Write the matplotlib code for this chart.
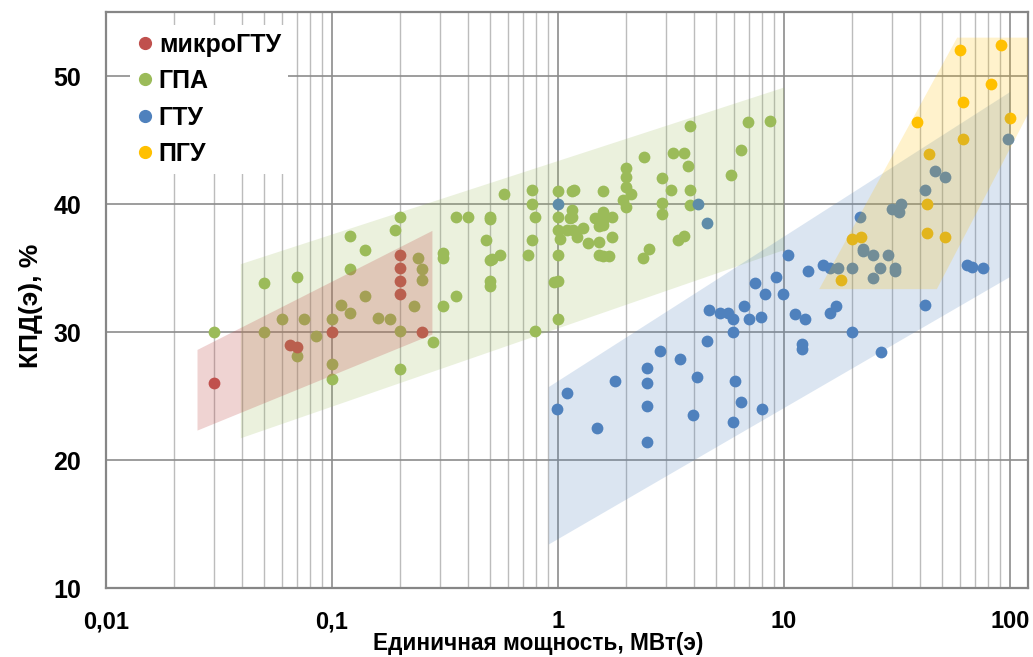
import matplotlib.pyplot as plt
from matplotlib.lines import Line2D
from matplotlib.ticker import LogLocator, NullFormatter

plt.rcParams['font.family'] = ['Liberation Sans', 'DejaVu Sans']

# микроГТУ
micro_x = [0.03, 0.065, 0.07, 0.1, 0.2, 0.2, 0.2, 0.2, 0.25]
micro_y = [26.0, 29.0, 28.8, 30.0, 36.0, 35.0, 34.0, 33.0, 30.0]

# ГПА
gpa_x = [0.2, 0.19, 0.355, 0.12, 0.14, 0.12, 0.05, 0.07, 0.31, 0.31, 0.355, 0.31, 0.03, 0.28, 0.2, 0.1,
         0.24, 0.25, 0.25, 0.23, 0.14, 0.11, 0.12, 0.16, 0.18, 0.1, 0.075, 0.06, 0.05, 0.085, 0.2, 0.07, 0.1,
         3.85, 6.93, 8.7, 6.47, 5.8, 2.4, 3.22, 3.61, 3.77, 2.0, 2.0, 2.0, 2.1, 2.88, 3.16, 3.85,
         1.58, 1.18, 1.15, 0.765, 1.0, 0.577, 0.765, 1.93, 2.0, 2.88, 3.85,
         0.4, 0.5, 0.5, 0.794, 1.0, 1.15, 1.15, 1.13, 1.45, 1.58, 1.58, 1.58, 1.52, 1.74, 2.88,
         1.0, 1.09, 1.16, 1.29, 1.02, 1.21, 1.35, 1.52, 1.74, 0.48, 0.765,
         0.5, 0.51, 0.556, 0.734, 1.0, 1.51, 1.58, 1.68, 2.38, 2.52, 3.41, 3.61,
         0.5, 0.5, 0.957, 1.0, 1.0, 0.79]
gpa_y = [39.0, 38.0, 39.0, 37.5, 36.4, 34.9, 33.8, 34.3, 36.15, 35.8, 32.8, 32.0, 30.0, 29.2, 27.1, 26.3,
         35.8, 34.9, 34.1, 32.0, 32.8, 32.1, 31.5, 31.1, 31.0, 31.0, 31.0, 31.0, 30.0, 29.7, 30.1, 28.1, 27.5,
         46.1, 46.4, 46.5, 44.2, 42.3, 43.7, 44.0, 44.0, 43.0, 42.8, 42.1, 41.35, 40.8, 42.0, 41.1, 41.1,
         41.0, 41.1, 41.0, 41.1, 41.0, 40.8, 40.0, 40.3, 39.8, 40.1, 39.9,
         39.0, 39.0, 38.8, 39.0, 39.0, 39.5, 39.0, 38.9, 38.9, 39.4, 38.75, 38.4, 38.3, 39.0, 39.2,
         38.0, 38.0, 38.0, 38.1, 37.3, 37.45, 36.95, 37.0, 37.45, 37.2, 37.2,
         35.6, 35.7, 36.0, 36.0, 36.0, 36.0, 35.9, 35.9, 35.8, 36.5, 37.2, 37.5,
         34.0, 33.6, 33.9, 34.0, 31.0, 30.1]

# ГТУ
gtu_x = [1.0, 4.15, 4.56, 4.67, 7.44, 9.2, 8.24, 9.93, 5.21, 5.67, 5.97, 6.67, 6.98, 7.89, 11.2, 12.4,
         5.97, 4.57, 12.0, 12.0, 2.83, 3.48, 2.48, 2.48, 1.79, 4.11, 6.09, 1.09, 0.99, 2.48, 6.45, 7.96,
         3.96, 5.97, 1.49, 2.48,
         98, 46.6, 51.4, 42.1, 32.8, 30.0, 32.1, 21.7, 22.4, 22.4, 24.8, 28.9, 10.4, 14.9, 15.9, 17.4,
         19.9, 26.6, 30.9, 30.9, 24.7, 12.8, 64.3, 67.6, 75.7, 16.9, 15.9, 41.9, 19.9, 26.7]
gtu_y = [40.0, 40.0, 38.5, 31.7, 33.8, 34.3, 33.0, 33.0, 31.5, 31.5, 31.0, 32.0, 31.0, 31.2, 31.4, 31.0,
         30.0, 29.3, 29.1, 28.7, 28.5, 27.9, 27.2, 26.0, 26.2, 26.5, 26.2, 25.2, 24.0, 24.2, 24.5, 24.0,
         23.5, 23.0, 22.5, 21.4,
         45.05, 42.6, 42.1, 41.1, 40.0, 39.6, 39.35, 39.0, 36.5, 36.3, 36.0, 36.0, 36.0, 35.2, 35.0, 35.0,
         35.0, 35.0, 35.0, 34.8, 34.2, 34.8, 35.2, 35.1, 35.0, 32.0, 31.5, 32.1, 30.0, 28.4]

# ПГУ
pgu_x = [60.1, 91.2, 82.6, 61.8, 100, 38.9, 61.8, 43.7, 42.8, 42.8, 51.7, 19.9, 21.9, 17.9]
pgu_y = [52.0, 52.4, 49.4, 48.0, 46.7, 46.4, 45.1, 43.9, 40.0, 37.7, 37.4, 37.3, 37.4, 34.1]

# shaded zones, corner points
micro_zone_x = [0.0254, 0.278, 0.278, 0.0254]
micro_zone_y = [28.6, 37.9, 29.8, 22.3]
gpa_zone_x = [0.0395, 10, 10, 0.0395]
gpa_zone_y = [35.3, 49.1, 36.4, 21.7]
gtu_zone_x = [0.91, 100, 100, 0.91]
gtu_zone_y = [25.7, 48.75, 34.3, 13.4]
pgu_zone_x = [14.3, 58.3, 180, 47.4]
pgu_zone_y = [33.35, 53.0, 53.0, 33.35]

x_ticks = [0.01, 0.1, 1, 10, 100]
x_labels = ['0,01', '0,1', '1', '10', '100']
y_ticks = [10, 20, 30, 40, 50]

colors = {'micro': '#c0504d', 'gpa': '#9bbb59', 'gtu': '#4f81bd', 'pgu': '#ffc000'}

fig = plt.figure(figsize=(10.33, 6.57), dpi=100)
ax = fig.add_axes([0.1026, 0.105, 0.8926, 0.8767])

# points first, zones drawn over them
ax.scatter(gpa_x, gpa_y, s=72, color=colors['gpa'], lw=0, zorder=2)
ax.scatter(gtu_x, gtu_y, s=72, color=colors['gtu'], lw=0, zorder=2)
ax.scatter(micro_x, micro_y, s=72, color=colors['micro'], lw=0, zorder=2)
ax.scatter(pgu_x, pgu_y, s=72, color=colors['pgu'], lw=0, zorder=2)

ax.fill(gpa_zone_x, gpa_zone_y, color=colors['gpa'], alpha=0.2, lw=0, zorder=3)
ax.fill(micro_zone_x, micro_zone_y, color=colors['micro'], alpha=0.25, lw=0, zorder=3)
ax.fill(gtu_zone_x, gtu_zone_y, color=colors['gtu'], alpha=0.2, lw=0, zorder=3)
ax.fill(pgu_zone_x, pgu_zone_y, color=colors['pgu'], alpha=0.2, lw=0, zorder=3)

ax.set_xscale('log')
ax.set_xlim(0.01, 120)
ax.set_ylim(10, 55)
ax.set_xticks(x_ticks)
ax.set_xticklabels(x_labels)
ax.xaxis.set_minor_locator(LogLocator(base=10, subs=range(2, 10)))
ax.xaxis.set_minor_formatter(NullFormatter())
ax.set_yticks(y_ticks)

ax.grid(which='major', axis='both', color='#8c8c8c', lw=1.2, zorder=1)
ax.grid(which='minor', axis='x', color='#bcbcbc', lw=1.0, zorder=1)
ax.set_axisbelow(True)

for s in ax.spines.values():
    s.set_color('#868686')
    s.set_linewidth(1.6)

ax.tick_params(axis='both', which='both', length=0)
ax.tick_params(axis='x', labelsize=17, pad=16)
ax.tick_params(axis='y', labelsize=18, pad=18)
for lab in ax.get_xticklabels() + ax.get_yticklabels():
    lab.set_fontweight('bold')

ax.set_xlabel('Единичная мощность, МВт(э)', fontsize=16.3, fontweight='bold', labelpad=0)
ax.xaxis.set_label_coords(0.469, -0.076)
ax.set_ylabel('КПД(э), %', fontsize=19, fontweight='bold')
ax.yaxis.set_label_coords(-0.068, 0.49)

handles = [Line2D([], [], ls='none', marker='o', ms=8.5, color=colors[k]) for k in ['micro', 'gpa', 'gtu', 'pgu']]
leg = ax.legend(handles, ['микроГТУ', 'ГПА', 'ГТУ', 'ПГУ'], loc='upper left', bbox_to_anchor=(0.0126, 0.999),
                prop={'weight': 'bold', 'size': 18}, frameon=True, fancybox=False, edgecolor='none',
                facecolor='white', framealpha=1, handlelength=0.6, handletextpad=0.25, labelspacing=0.5,
                borderpad=0.3)
leg.set_zorder(5)

fig.savefig('out.png', dpi=100)
